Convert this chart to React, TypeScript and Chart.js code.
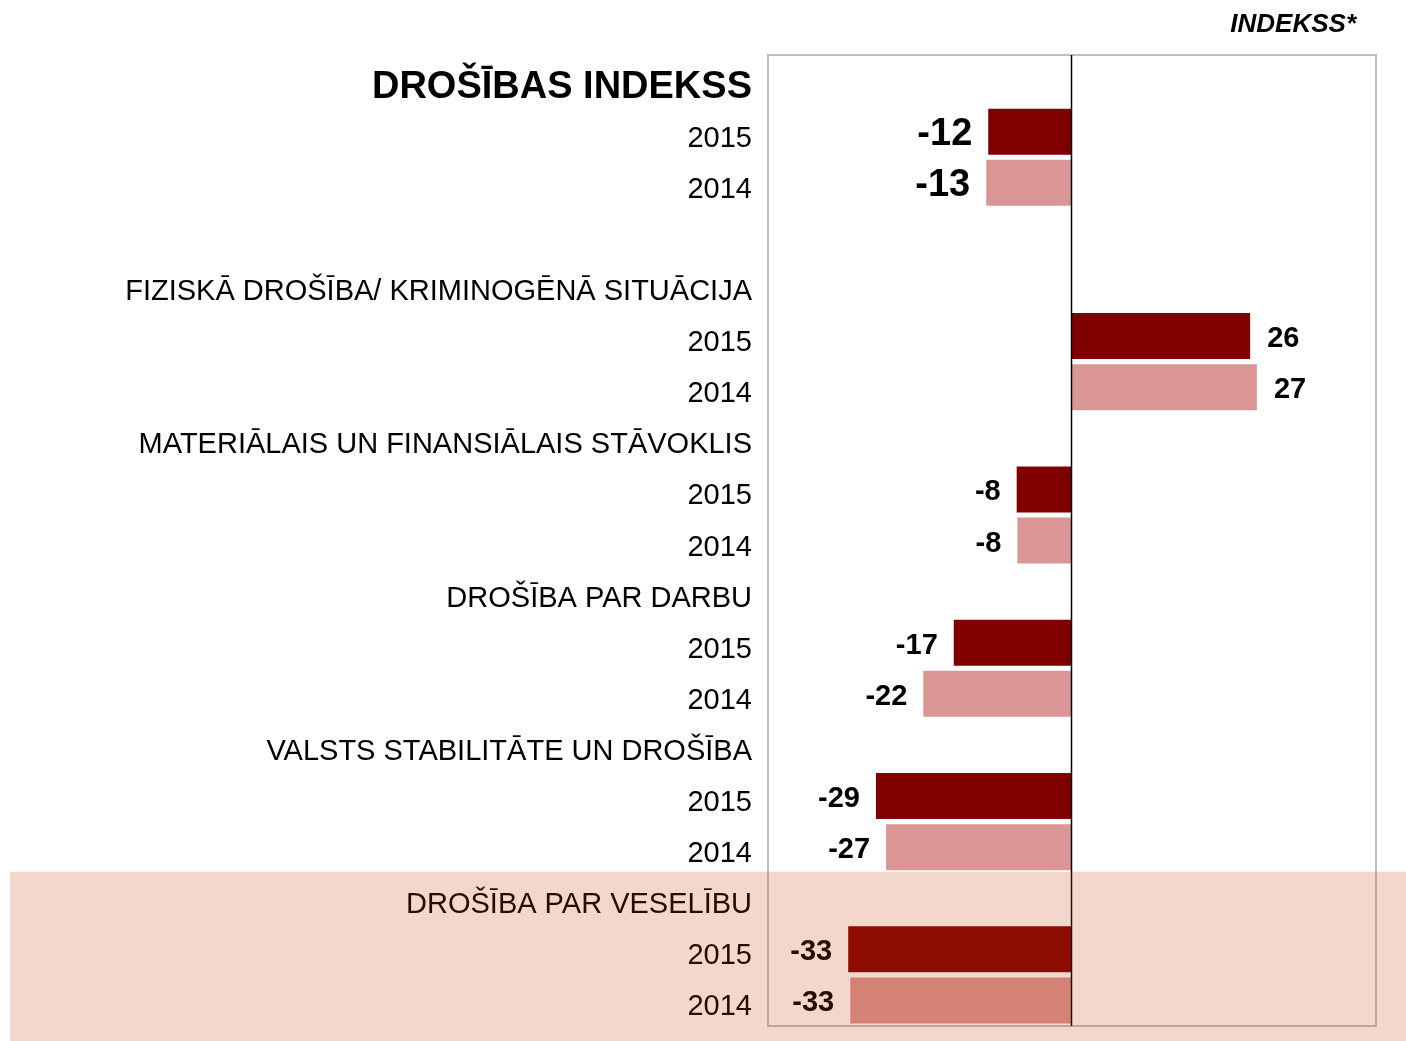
import React, { useEffect, useRef } from 'react';
import { Chart, registerables } from 'chart.js';

Chart.register(...registerables);

// ---------- data ----------
const groups = [
  'DROŠĪBAS INDEKSS',
  'FIZISKĀ DROŠĪBA/ KRIMINOGĒNĀ SITUĀCIJA',
  'MATERIĀLAIS UN FINANSIĀLAIS STĀVOKLIS',
  'DROŠĪBA PAR DARBU',
  'VALSTS STABILITĀTE UN DROŠĪBA',
  'DROŠĪBA PAR VESELĪBU',
];
const years = ['2015', '2014'];
const values2015 = [-12.3, 26.4, -8.1, -17.4, -28.9, -33.0];
const values2014 = [-12.6, 27.4, -8.0, -21.9, -27.4, -32.7];
const axisMin = -45;
const axisMax = 45;
const axisTitle = 'INDEKSS*';
const highlightGroup = 5;

const colors2015 = '#800000';
const colors2014 = '#D99694';
const FONT = '"Liberation Sans", Arial, sans-serif';

type Row = { label: string; value: number | null; year: string | null; group: number; header: boolean };
const rows: Row[] = [];
groups.forEach((g, gi) => {
  rows.push({ label: g, value: null, year: null, group: gi, header: true });
  rows.push({ label: years[0], value: values2015[gi], year: years[0], group: gi, header: false });
  rows.push({ label: years[1], value: values2014[gi], year: years[1], group: gi, header: false });
  if (gi === 0) rows.push({ label: '', value: null, year: null, group: gi, header: false });
});

const decorPlugin = {
  id: 'decor',
  afterDatasetsDraw(chart: any) {
    const ctx = chart.ctx;
    const meta = chart.getDatasetMeta(0);
    ctx.save();
    ctx.fillStyle = '#000';
    ctx.textBaseline = 'middle';
    rows.forEach((r, i) => {
      if (r.value === null) return;
      const el = meta.data[i];
      const big = r.group === 0;
      ctx.font = `bold ${big ? 38 : 29}px ${FONT}`;
      const txt = String(Math.round(r.value));
      if (r.value < 0) {
        ctx.textAlign = 'right';
        ctx.fillText(txt, el.x - 16, el.y + 3);
      } else {
        ctx.textAlign = 'left';
        ctx.fillText(txt, el.x + 17, el.y + 3);
      }
    });
    ctx.restore();
  },
  afterDraw(chart: any) {
    const ctx = chart.ctx;
    const a = chart.chartArea;
    const xs = chart.scales.x;
    const ys = chart.scales.y;
    ctx.save();
    // plot border
    ctx.strokeStyle = '#BFBFBF';
    ctx.lineWidth = 2;
    ctx.strokeRect(a.left + 1, a.top, a.right - a.left - 1, a.bottom - a.top);
    // zero line
    const zx = xs.getPixelForValue(0);
    ctx.strokeStyle = '#000';
    ctx.lineWidth = 1.5;
    ctx.beginPath();
    ctx.moveTo(zx, a.top);
    ctx.lineTo(zx, a.bottom);
    ctx.stroke();
    // axis title
    ctx.font = `italic bold 26px ${FONT}`;
    ctx.fillStyle = '#000';
    ctx.textAlign = 'right';
    ctx.textBaseline = 'middle';
    ctx.fillText(axisTitle, a.right - 20, a.top - 30);
    // highlight overlay
    const firstIdx = rows.findIndex((r) => r.group === highlightGroup);
    const top = (ys.getPixelForValue(firstIdx) + ys.getPixelForValue(firstIdx - 1)) / 2 - 1;
    ctx.fillStyle = 'rgba(196,55,6,0.205)';
    ctx.fillRect(10, top, chart.width - 10, chart.height - top);
    ctx.restore();
  },
};

export default function App() {
  const ref = useRef<HTMLCanvasElement | null>(null);
  useEffect(() => {
    if (!ref.current) return;
    Chart.defaults.font.family = FONT;
    const chart = new Chart(ref.current, {
      type: 'bar',
      data: {
        labels: rows.map((r) => r.label),
        datasets: [
          {
            data: rows.map((r) => r.value) as any,
            backgroundColor: rows.map((r) => (r.year === years[0] ? colors2015 : colors2014)),
            borderWidth: 0,
            barPercentage: 0.9,
            categoryPercentage: 1,
          },
        ],
      },
      options: {
        indexAxis: 'y',
        animation: false,
        responsive: false,
        maintainAspectRatio: false,
        layout: { padding: { top: 55, right: 30, bottom: 15, left: 0 } },
        plugins: { legend: { display: false }, tooltip: { enabled: false }, title: { display: false } },
        scales: {
          x: { display: false, min: axisMin, max: axisMax },
          y: {
            display: true,
            grid: { display: false, drawTicks: false },
            border: { display: false },
            ticks: {
              autoSkip: false,
              padding: 15,
              labelOffset: 7,
              color: '#000',
              font: (c: any) =>
                c.index === 0 ? { size: 38, weight: 'bold', family: FONT } : { size: 29, family: FONT },
            },
            afterFit: (scale: any) => {
              scale.width = 767;
              scale.paddingTop = 0;
              scale.paddingBottom = 0;
            },
          },
        },
      },
      plugins: [decorPlugin],
    } as any);
    return () => chart.destroy();
  }, []);
  return (
    <div style={{ position: 'fixed', left: 0, top: 0, width: 1406, height: 1041, background: '#fff' }}>
      <canvas ref={ref} width={1406} height={1041} style={{ width: 1406, height: 1041, display: 'block' }} />
    </div>
  );
}
